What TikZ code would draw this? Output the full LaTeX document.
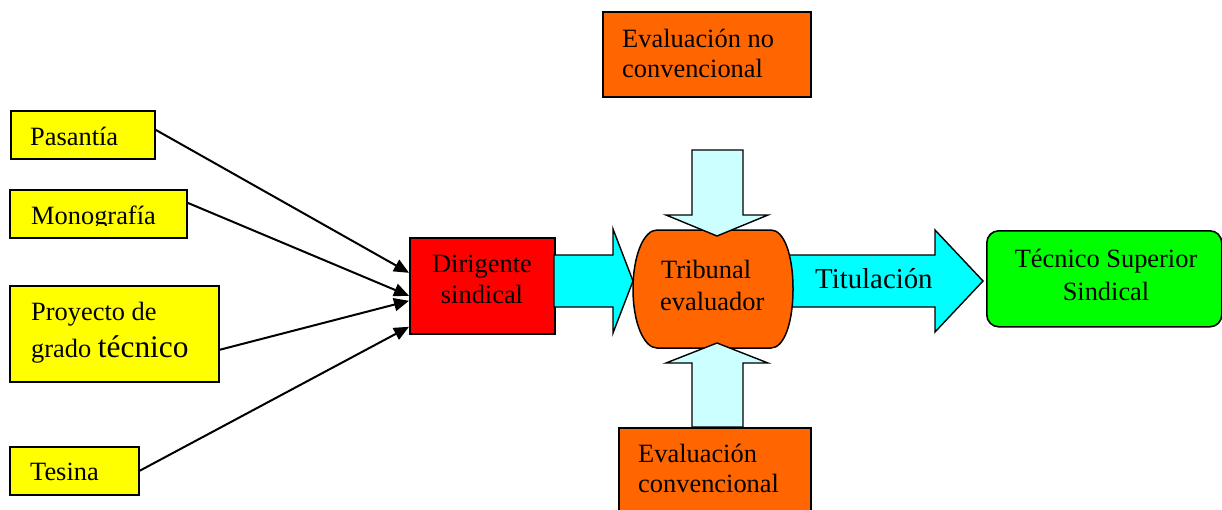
\documentclass[tikz,border=0pt]{standalone}
\usepackage{fontspec}
\setmainfont{Liberation Serif}
\usetikzlibrary{arrows.meta,calc}
\definecolor{ybox}{HTML}{FFFF00}
\definecolor{rbox}{HTML}{FF0000}
\definecolor{obox}{HTML}{FF6600}
\definecolor{cyanarrow}{HTML}{00FFFF}
\definecolor{lightcyan}{HTML}{CCFFFF}
\definecolor{gbox}{HTML}{00FF00}
\newcommand{\normsize}{\fontsize{26.4}{31.5}\selectfont}
\begin{document}
\begin{tikzpicture}[x=1pt,y=-1pt,
  boxline/.style={draw=black,line width=1.6pt},
  yellowbox/.style={boxline,fill=ybox,inner sep=0pt,anchor=north west},
  orangebox/.style={boxline,fill=obox,inner sep=0pt,anchor=north west},
  txt/.style={inner sep=0pt,anchor=base west,font=\normsize},
  ctxt/.style={inner sep=0pt,anchor=base,font=\normsize},
  conn/.style={line width=2pt,-{Triangle[length=15pt,width=13pt]}},
  blockarrow/.style={draw=black,line width=1.4pt,line join=miter},
]
\useasboundingbox (0,0) rectangle (1222,509);
\clip (0,0) rectangle (1222,509);

% ---- yellow boxes ----
\node[yellowbox,minimum width=144pt,minimum height=48pt] (pas) at (10,110) {};
\node[yellowbox,minimum width=177pt,minimum height=48pt] (mono) at (9,189) {};
\node[yellowbox,minimum width=209pt,minimum height=96pt] (proy) at (9,285) {};
\node[yellowbox,minimum width=129pt,minimum height=48pt] (tes) at (9,446) {};

\node[txt] (pas-t) at (30,145) {Pasantía};
\begin{scope}
  \clip (0,180) rectangle (200,225.5);
  \node[txt] (mono-t) at (31,224) {Monografía};
\end{scope}
\node[txt] (proy-t1) at (31,320) {Proyecto de};
\node[txt] (proy-t2) at (31,357) {grado {\fontsize{31.4}{36}\selectfont técnico}};
\node[txt] (tes-t) at (30,480) {Tesina};

% ---- red box ----
\node[boxline,fill=rbox,inner sep=0pt,anchor=north west,minimum width=145pt,minimum height=96pt] (dir) at (409,237) {};
\node[ctxt] (dir-t1) at (482,272) {Dirigente};
\node[ctxt] (dir-t2) at (482,303) {sindical};

% ---- connectors ----
\draw[conn] ($(pas.east)+(0,-5)$) -- ($(dir.west)+(0,-13)$);
\draw[conn] ($(mono.east)+(0,-11)$) -- ($(dir.west)+(0,10)$);
\draw[conn] ($(proy.east)+(0,16)$) -- ($(dir.west)+(0,15)$);
\draw[conn] (tes.east) -- ($(dir.west)+(0,41)$);

% ---- cyan block arrows (drawn before tribunal) ----
\draw[blockarrow,fill=cyanarrow] (554,255) -- (613,255) -- (613,229) -- (633,281) -- (613,333) -- (613,307) -- (554,307) -- cycle;
\draw[blockarrow,fill=cyanarrow] (775,255) -- (935,255) -- (935,230) -- (983,281) -- (935,332) -- (935,307) -- (775,307) -- cycle;

% ---- tribunal ----
\draw[boxline,fill=obox,line width=1.5pt] (657,230) -- (771,230)
  .. controls (784,230) and (793,255) .. (793,289)
  .. controls (793,323) and (784,348) .. (771,348)
  -- (657,348)
  .. controls (644,348) and (633,323) .. (633,289)
  .. controls (633,255) and (644,230) .. (657,230) -- cycle;
\coordinate (trib) at (713,289);
\node[txt] (trib-t1) at (661,278) {Tribunal};
\node[txt] (trib-t2) at (660,310) {evaluador};

% ---- light cyan arrows ----
\draw[blockarrow,fill=lightcyan] (692,150) -- (743,150) -- (743,215) -- (768,215) -- (717,236) -- (666,215) -- (692,215) -- cycle;
\draw[blockarrow,fill=lightcyan] (692,427) -- (692,363) -- (666,363) -- (717,343) -- (768,363) -- (743,363) -- (743,427) -- cycle;

% ---- orange evaluation boxes ----
\node[orangebox,minimum width=208pt,minimum height=85pt] (noconv) at (602,11) {};
\node[txt] (noconv-t1) at (622,47) {Evaluación no};
\node[txt] (noconv-t2) at (622,77) {convencional};

\node[orangebox,minimum width=192pt,minimum height=95pt] (conv) at (618,427) {};
\node[txt] (conv-t1) at (638,462) {Evaluación};
\node[txt] (conv-t2) at (638,492) {convencional};

% ---- Titulación ----
\node[inner sep=0pt,anchor=base west,font=\fontsize{28.8}{34}\selectfont] (tit) at (815,288) {Titulación};

% ---- green box ----
\node[boxline,fill=gbox,rounded corners=12pt,inner sep=0pt,anchor=north west,minimum width=235pt,minimum height=96pt] (tec) at (986,230) {};
\node[ctxt] (tec-t1) at (1106,267) {Técnico Superior};
\node[ctxt] (tec-t2) at (1106,300) {Sindical};
\end{tikzpicture}
\end{document}
